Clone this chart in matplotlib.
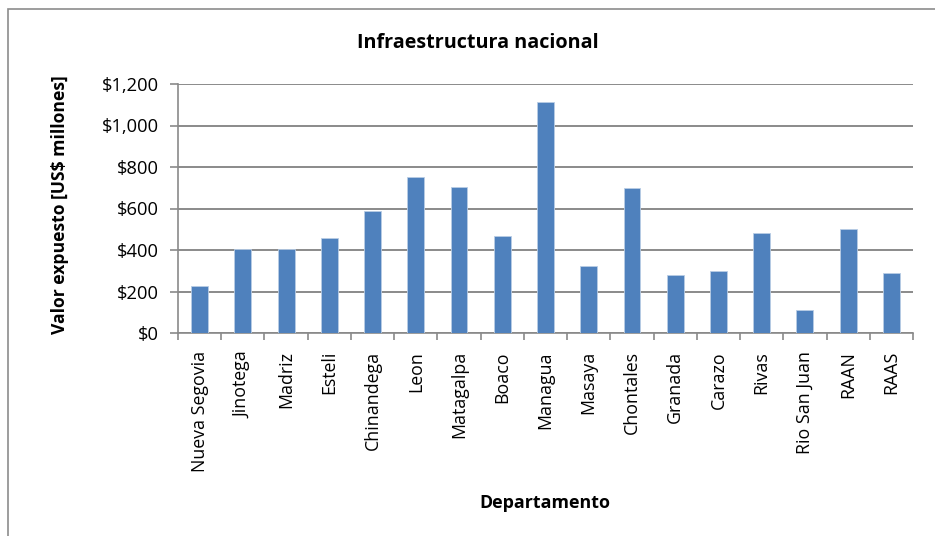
import matplotlib
matplotlib.use("Agg")
import matplotlib.pyplot as plt
from matplotlib.patches import Rectangle
from matplotlib.ticker import FuncFormatter, MultipleLocator, FixedLocator
import numpy as np

departamentos = ["Nueva Segovia", "Jinotega", "Madriz", "Esteli", "Chinandega", "Leon",
                 "Matagalpa", "Boaco", "Managua", "Masaya", "Chontales", "Granada",
                 "Carazo", "Rivas", "Rio San Juan", "RAAN", "RAAS"]
valores = [225, 403, 403, 456, 590, 750, 705, 466, 1115, 323, 697, 278, 297, 484, 111, 500, 288]

title = "Infraestructura nacional"
xlabel = "Departamento"
ylabel = "Valor expuesto [US$ millones]"

plt.rcParams['font.family'] = ['Open Sans', 'DejaVu Sans']

W, H = 935, 536
fig = plt.figure(figsize=(W / 100, H / 100), dpi=100)
fig.patch.set_facecolor("white")

# outer chart border
fig.patches.append(Rectangle((8 / W, -0.01), 1.05, 1 - 9 / H + 0.01, transform=fig.transFigure,
                             fill=False, edgecolor="#8c8c8c", linewidth=1.2))

ax = fig.add_axes([178 / W, 1 - 333 / H, (913 - 178) / W, (333 - 84) / H])
x = np.arange(len(departamentos))
ax.bar(x, valores, width=0.39, color="#4F81BD", edgecolor="#b9cde5", linewidth=0.6, zorder=3)

ax.set_xlim(-0.5, len(departamentos) - 0.5)
ax.set_ylim(0, 1200)
ax.yaxis.set_major_locator(MultipleLocator(200))
ax.yaxis.set_major_formatter(FuncFormatter(lambda v, p: "${:,.0f}".format(v)))
ax.grid(axis="y", color="#8a8a8a", linewidth=1.4, zorder=0)

ax.set_xticks(x)
ax.set_xticklabels(departamentos, rotation=90, fontsize=12.8)
ax.xaxis.set_minor_locator(FixedLocator(np.arange(-0.5, len(departamentos), 1)))
ax.tick_params(axis="x", which="major", length=0, pad=13)
ax.tick_params(axis="x", which="minor", length=5, color="#8a8a8a", width=1.2, direction="out")
ax.tick_params(axis="y", length=6, color="#8a8a8a", width=1.2, labelsize=13.2, pad=8)

for s in ["top", "right"]:
    ax.spines[s].set_visible(False)
for s in ["left", "bottom"]:
    ax.spines[s].set_color("#8a8a8a")
    ax.spines[s].set_linewidth(1.2)

fig.text(478 / W, 1 - 43 / H, title, ha="center", va="center", fontsize=14.2, fontweight="bold")
fig.text(545 / W, 1 - 503 / H, xlabel, ha="center", va="center", fontsize=12.9, fontweight="bold")
fig.text(60 / W, 1 - 205 / H, ylabel, ha="center", va="center", rotation=90, fontsize=12.6,
         fontweight="bold")

fig.savefig("out.png", dpi=100)
